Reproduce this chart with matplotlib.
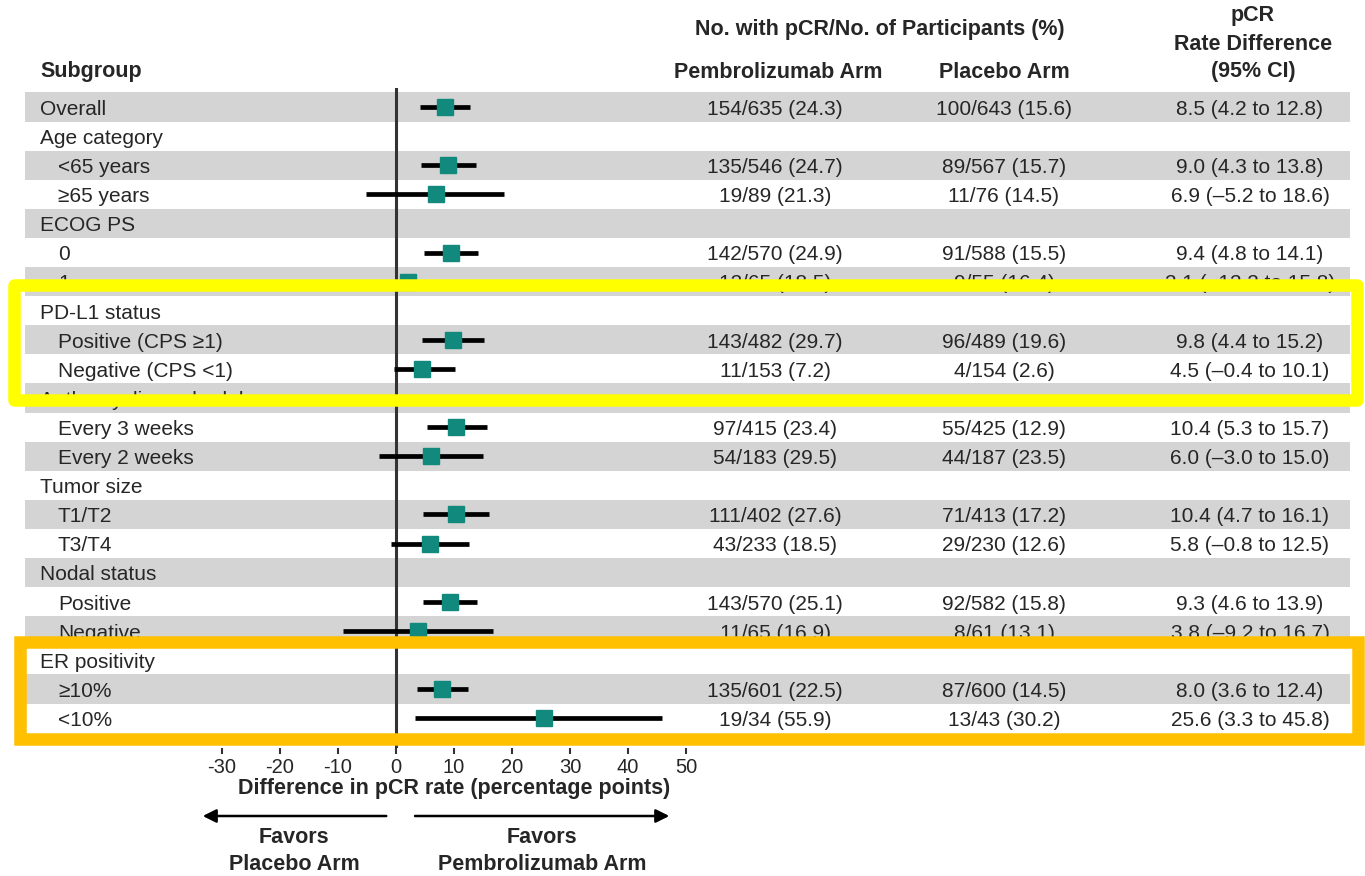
import numpy as np
import matplotlib
matplotlib.use("Agg")
import matplotlib.pyplot as plt
from matplotlib.patches import Rectangle

plt.rcParams['font.family'] = ['Liberation Sans', 'DejaVu Sans']
plt.rcParams['axes.unicode_minus'] = False

# ---------------- dados ----------------
subgroups = ['Overall', 'Age category', '<65 years', '≥65 years', 'ECOG PS', '0', '1',
             'PD-L1 status', 'Positive (CPS ≥1)', 'Negative (CPS <1)',
             'Anthracycline schedule', 'Every 3 weeks', 'Every 2 weeks',
             'Tumor size', 'T1/T2', 'T3/T4', 'Nodal status', 'Positive', 'Negative',
             'ER positivity', '≥10%', '<10%']
indent = [0, 0, 1, 1, 0, 1, 1, 0, 1, 1, 0, 1, 1, 0, 1, 1, 0, 1, 1, 0, 1, 1]
nan = np.nan
est = [8.5, nan, 9.0, 6.9, nan, 9.4, 2.1, nan, 9.8, 4.5, nan, 10.4, 6.0,
       nan, 10.4, 5.8, nan, 9.3, 3.8, nan, 8.0, 25.6]
ci_lo = [4.2, nan, 4.3, -5.2, nan, 4.8, -12.2, nan, 4.4, -0.4, nan, 5.3, -3.0,
         nan, 4.7, -0.8, nan, 4.6, -9.2, nan, 3.6, 3.3]
ci_hi = [12.8, nan, 13.8, 18.6, nan, 14.1, 15.8, nan, 15.2, 10.1, nan, 15.7, 15.0,
         nan, 16.1, 12.5, nan, 13.9, 16.7, nan, 12.4, 45.8]
pembro = ['154/635 (24.3)', '', '135/546 (24.7)', '19/89 (21.3)', '', '142/570 (24.9)',
          '12/65 (18.5)', '', '143/482 (29.7)', '11/153 (7.2)', '', '97/415 (23.4)',
          '54/183 (29.5)', '', '111/402 (27.6)', '43/233 (18.5)', '', '143/570 (25.1)',
          '11/65 (16.9)', '', '135/601 (22.5)', '19/34 (55.9)']
placebo = ['100/643 (15.6)', '', '89/567 (15.7)', '11/76 (14.5)', '', '91/588 (15.5)',
           '9/55 (16.4)', '', '96/489 (19.6)', '4/154 (2.6)', '', '55/425 (12.9)',
           '44/187 (23.5)', '', '71/413 (17.2)', '29/230 (12.6)', '', '92/582 (15.8)',
           '8/61 (13.1)', '', '87/600 (14.5)', '13/43 (30.2)']
diff_txt = ['8.5 (4.2 to 12.8)', '', '9.0 (4.3 to 13.8)', '6.9 (–5.2 to 18.6)', '',
            '9.4 (4.8 to 14.1)', '2.1 (–12.2 to 15.8)', '', '9.8 (4.4 to 15.2)',
            '4.5 (–0.4 to 10.1)', '', '10.4 (5.3 to 15.7)', '6.0 (–3.0 to 15.0)', '',
            '10.4 (4.7 to 16.1)', '5.8 (–0.8 to 12.5)', '', '9.3 (4.6 to 13.9)',
            '3.8 (–9.2 to 16.7)', '', '8.0 (3.6 to 12.4)', '25.6 (3.3 to 45.8)']
xticks = [-30, -20, -10, 0, 10, 20, 30, 40, 50]

# ---------------- layout (pixels) ----------------
W, H = 1365, 876
Y0, RH = 107, 29.1          # centro da 1a linha, altura da linha
rows = np.arange(len(subgroups))
TXT = '#262626'
TEAL = '#12897d'

def prow(py):
    return (py - Y0) / RH

fig = plt.figure(figsize=(W / 100, H / 100), dpi=100)
ax_bg = fig.add_axes([0, 0, 1, 1])
ax_bg.set_xlim(0, W)
ax_bg.set_ylim(prow(H), prow(0))
ax_bg.axis('off')

# faixas cinzas alternadas
for i in rows:
    if i % 2 == 0:
        ax_bg.add_patch(Rectangle((25, i - 0.5), 1325, 1, color='#d4d4d4', lw=0, zorder=0))

# cabeçalhos
hb = dict(fontsize=15.5, fontweight='bold', color=TXT, va='center')
ax_bg.text(40, prow(72), 'Subgroup', ha='left', **hb)
ax_bg.text(880, prow(29), 'No. with pCR/No. of Participants (%)', ha='center', **hb)
ax_bg.text(778, prow(72), 'Pembrolizumab Arm', ha='center', **hb)
ax_bg.text(1004, prow(72), 'Placebo Arm', ha='center', **hb)
ax_bg.text(1253, prow(15), 'pCR', ha='center', **hb)
ax_bg.text(1253, prow(44), 'Rate Difference', ha='center', **hb)
ax_bg.text(1253, prow(72), '(95% CI)', ha='center', **hb)

# tabela
for i in rows:
    ax_bg.text(40 + 18 * indent[i], i + 0.08, subgroups[i], ha='left', va='center',
               fontsize=15, color=TXT)
    ax_bg.text(775, i + 0.08, pembro[i], ha='center', va='center', fontsize=15, color=TXT)
    ax_bg.text(1004, i + 0.08, placebo[i], ha='center', va='center', fontsize=15, color=TXT)
    ax_bg.text(1250, i + 0.08, diff_txt[i], ha='center', va='center', fontsize=15, color=TXT)

# ---------------- forest plot ----------------
x_left, x_right = 222, 686
y_top, y_bot = 88, 748
ax = fig.add_axes([x_left / W, (H - y_bot) / H, (x_right - x_left) / W, (y_bot - y_top) / H])
ax.patch.set_alpha(0)
ax.set_xlim(-30, 50)
ax.set_ylim(prow(y_bot), prow(y_top))
for s in ax.spines.values():
    s.set_visible(False)
ax.set_yticks([])
ax.set_xticks(xticks)
ax.tick_params(axis='x', length=4, width=1.5, color='#333333', labelsize=14.5,
               labelcolor=TXT, pad=3)
ax.axvline(0, color='#333333', lw=2.2, zorder=1)

ax.hlines(rows, ci_lo, ci_hi, color='black', lw=3.4, zorder=2)
ax.plot(est, rows, 's', color=TEAL, markersize=11, zorder=3, ls='none')

ax.set_xlabel('Difference in pCR rate (percentage points)', fontsize=15.5,
              fontweight='bold', color=TXT, labelpad=1)

ya = prow(816)
ax.annotate('', xy=(-33.8, ya), xytext=(-1.2, ya), annotation_clip=False,
            arrowprops=dict(arrowstyle='-|>', color='black', lw=1.8, mutation_scale=20))
ax.annotate('', xy=(47.6, ya), xytext=(2.8, ya), annotation_clip=False,
            arrowprops=dict(arrowstyle='-|>', color='black', lw=1.8, mutation_scale=20))
ax.text(-17.6, prow(851), 'Favors\nPlacebo Arm', ha='center', va='center', fontsize=15.5,
        fontweight='bold', color=TXT, linespacing=1.35, clip_on=False)
ax.text(25.2, prow(851), 'Favors\nPembrolizumab Arm', ha='center', va='center',
        fontsize=15.5, fontweight='bold', color=TXT, linespacing=1.35, clip_on=False)

# ---------------- destaques ----------------
ax_top = fig.add_axes([0, 0, 1, 1])
ax_top.set_xlim(0, W)
ax_top.set_ylim(prow(H), prow(0))
ax_top.axis('off')
ax_top.patch.set_alpha(0)
ax_top.add_patch(Rectangle((14, prow(285)), 1343, prow(400) - prow(285), fill=False,
                           ec='#ffff00', lw=9, joinstyle='round'))
ax_top.add_patch(Rectangle((20, prow(642)), 1338, prow(739) - prow(642), fill=False,
                           ec='#ffc000', lw=9, joinstyle='miter'))

fig.savefig('out.png', dpi=100)
